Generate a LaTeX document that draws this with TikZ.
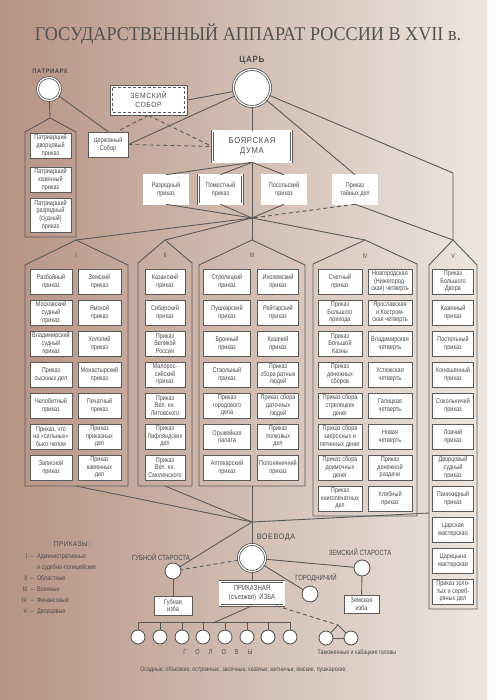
\documentclass[tikz,border=0pt]{standalone}
\usepackage{fontspec}
\setmainfont{Liberation Serif}
\newfontfamily\nfont[FakeStretch=0.8]{Liberation Sans}
\newfontfamily\capfont[FakeStretch=0.9,LetterSpace=8]{Liberation Sans}
\newfontfamily\ttlfont[FakeStretch=0.93]{Liberation Serif}
\usetikzlibrary{positioning,calc}
\definecolor{linec}{HTML}{5A5A5A}
\definecolor{txtc}{HTML}{4A4A4A}
\definecolor{bgl}{RGB}{182,146,130}
\definecolor{bgm}{RGB}{214,196,184}
\definecolor{bgr}{RGB}{238,232,226}

\begin{document}
\begin{tikzpicture}[x=1pt,y=-1pt,
  prk/.style={draw=linec,line width=0.9pt,fill=white,minimum width=#1,minimum height=25pt,inner sep=0pt,align=center,text=txtc,font=\nfont\fontsize{6.9}{7.7}\selectfont},
  prk/.default=42pt,
  dprk/.style={prk=#1,double=white,double distance=1.1pt,line width=0.6pt,minimum height=29pt},
  dprk/.default=44pt,
  big/.style={circle,draw=linec,line width=0.8pt,double=white,double distance=1.2pt,fill=white,minimum size=#1,inner sep=0pt},
  sml/.style={circle,draw=linec,line width=0.9pt,fill=white,minimum size=#1,inner sep=0pt},
  sml/.default=16pt,
  conn/.style={draw=linec,line width=0.9pt},
  dsh/.style={conn,dash pattern=on 4pt off 3pt},
  lbl/.style={text=txtc,font=\capfont\fontsize{7}{8}\selectfont},
  rom/.style={text=txtc,font=\nfont\fontsize{6.5}{7}\selectfont}]
\useasboundingbox (0,0) rectangle (495,700);
\shade[left color=bgl,middle color=bgm,right color=bgr] (0,0) rectangle (495,700);
\fill[white!85!bgr] (487,0) rectangle (495,700);

\node[anchor=base,text=black!68,font=\ttlfont\fontsize{19.5}{22}\selectfont] (ttl) at (248,41) {ГОСУДАРСТВЕННЫЙ АППАРАТ РОССИИ В XVII в.};

% top of the state
\node[big=37pt] (tsar) at (252,88) {};
\node[lbl,font=\capfont\bfseries\fontsize{9}{10}\selectfont] at (252,60) {ЦАРЬ};
\node[big=23pt] (pat) at (49,89) {};
\node[lbl,font=\capfont\bfseries\fontsize{6.5}{8}\selectfont] at (50,71) {ПАТРИАРХ};
\node[prk=77pt,minimum height=30pt,font=\capfont\fontsize{7.5}{9}\selectfont] (zs) at (148.5,100) {ЗЕМСКИЙ\\СОБОР};
\draw[linec,line width=0.8pt,dash pattern=on 3pt off 2pt] ([shift={(3pt,-3pt)}]zs.north west) rectangle ([shift={(-3pt,3pt)}]zs.south east);
\node[prk=40pt] (cs) at (108,144.5) {Церковный\\Собор};
\node[dprk=79pt,minimum height=31pt,font=\capfont\fontsize{8.5}{10}\selectfont] (duma) at (252,146.5) {БОЯРСКАЯ\\ДУМА};
\node[dprk] (rz) at (166,189.5) {Разрядный\\приказ};
\node[dprk] (pm) at (220.5,189.5) {Поместный\\приказ};
\node[dprk] (ps) at (284,189.5) {Посольский\\приказ};
\node[dprk] (tayn) at (355,189.5) {Приказ\\тайных дел};
\coordinate (hub) at (252,218);
\coordinate (vtop) at (453,173);

% patriarch prikazes
\coordinate (c0) at (50,118);
\draw[conn] (25,237) -- (25,132) -- (c0) -- (76,132) -- (76,237) -- cycle;
\node[prk=41pt] (pa1) at (50.5,145.5) {Патриарший\\дворцовый\\приказ};
\node[prk=41pt] (pa2) at (50.5,179.5) {Патриарший\\казенный\\приказ};
\node[prk=41pt,minimum height=34pt] (pa3) at (50.5,215) {Патриарший\\разрядный\\(судный)\\приказ};

% columns
\coordinate (c1) at (76,240);
\coordinate (c2) at (165,240);
\coordinate (c3) at (252,240);
\coordinate (c4) at (365,240);
\coordinate (c5) at (453,240);
\coordinate (d1) at (76,486);
\coordinate (d2) at (165,486);
\coordinate (d3) at (252,486);
\coordinate (e5) at (429,513);
\draw[conn] (25,486) -- (25,265) -- (c1) -- (128,265) -- (128,486) -- cycle;
\draw[conn] (138,486) -- (138,263) -- (c2) -- (192,263) -- (192,486) -- cycle;
\draw[conn] (199,486) -- (199,265) -- (c3) -- (305,265) -- (305,486) -- cycle;
\draw[conn] (313,516) -- (313,264) -- (c4) -- (417,264) -- (417,516) -- cycle;
\draw[conn] (429,609) -- (429,265) -- (c5) -- (477,265) -- (477,609) -- cycle;
\node[rom] at (76,255) {I};
\node[rom] at (165,255) {II};
\node[rom] at (252,255) {III};
\node[rom] at (365,256) {IV};
\node[rom] at (453,256) {V};

% I
\node[prk] (ka1) at (51,281.5) {Разбойный\\приказ};
\node[prk] (ka2) at (51,312.5) {Московский\\судный\\приказ};
\node[prk] (ka3) at (51,343.5) {Владимирский\\судный\\приказ};
\node[prk] (ka4) at (51,374.5) {Приказ\\сыскных дел};
\node[prk] (ka5) at (51,405.5) {Челобитный\\приказ};
\node[prk] (ka6) at (51,436.5) {Приказ, что\\на «сильных»\\бьют челом};
\node[prk] (ka7) at (51,467.5) {Записной\\приказ};
\node[prk=43pt] (kb1) at (99.5,281.5) {Земский\\приказ};
\node[prk=43pt] (kb2) at (99.5,312.5) {Ямской\\приказ};
\node[prk=43pt] (kb3) at (99.5,343.5) {Холопий\\приказ};
\node[prk=43pt] (kb4) at (99.5,374.5) {Монастырский\\приказ};
\node[prk=43pt] (kb5) at (99.5,405.5) {Печатный\\приказ};
\node[prk=43pt] (kb6) at (99.5,436.5) {Приказ\\приказных\\дел};
\node[prk=43pt] (kb7) at (99.5,467.5) {Приказ\\каменных\\дел};
% II
\node[prk=40pt] (oa1) at (165,281.5) {Казанский\\приказ};
\node[prk=40pt] (oa2) at (165,312.5) {Сибирский\\приказ};
\node[prk=40pt] (oa3) at (165,343.5) {Приказ\\Великой\\России};
\node[prk=40pt] (oa4) at (165,374.5) {Малорос-\\сийский\\приказ};
\node[prk=40pt] (oa5) at (165,405.5) {Приказ\\Вел. кн.\\Литовского};
\node[prk=40pt] (oa6) at (165,436.5) {Приказ\\Лифляндских\\дел};
\node[prk=40pt] (oa7) at (165,467.5) {Приказ\\Вел. кн.\\Смоленского};
% III
\node[prk=47pt] (va1) at (227,281.5) {Стрелецкий\\приказ};
\node[prk=47pt] (va2) at (227,312.5) {Пушкарский\\приказ};
\node[prk=47pt] (va3) at (227,343.5) {Бронный\\приказ};
\node[prk=47pt] (va4) at (227,374.5) {Ствольный\\приказ};
\node[prk=47pt] (va5) at (227,405.5) {Приказ\\городового\\дела};
\node[prk=47pt] (va6) at (227,436.5) {Оружейная\\палата};
\node[prk=47pt] (va7) at (227,467.5) {Аптекарский\\приказ};
\node[prk=41pt] (vb1) at (278,281.5) {Иноземский\\приказ};
\node[prk=41pt] (vb2) at (278,312.5) {Рейтарский\\приказ};
\node[prk=41pt] (vb3) at (278,343.5) {Казачий\\приказ};
\node[prk=41pt] (vb4) at (278,374.5) {Приказ\\сбора ратных\\людей};
\node[prk=41pt] (vb5) at (278,405.5) {Приказ сбора\\даточных\\людей};
\node[prk=41pt] (vb6) at (278,436.5) {Приказ\\полковых\\дел};
\node[prk=41pt] (vb7) at (278,467.5) {Полоняничний\\приказ};
% IV
\node[prk=44pt] (fa1) at (340,281.5) {Счетный\\приказ};
\node[prk=44pt] (fa2) at (340,312.5) {Приказ\\Большого\\прихода};
\node[prk=44pt] (fa3) at (340,343.5) {Приказ\\Большой\\Казны};
\node[prk=44pt] (fa4) at (340,374.5) {Приказ\\денежных\\сборов};
\node[prk=44pt] (fa5) at (340,405.5) {Приказ сбора\\стрелецких\\денег};
\node[prk=44pt] (fa6) at (340,436.5) {Приказ сбора\\запросных и\\пятинных денег};
\node[prk=44pt] (fa7) at (340,467.5) {Приказ сбора\\доимочных\\денег};
\node[prk=44pt] (fa8) at (340,498.5) {Приказ\\книгопечатных\\дел};
\node[prk=44pt] (fb1) at (390,281.5) {Новгородская\\(Нижегород-\\ская) четверть};
\node[prk=44pt] (fb2) at (390,312.5) {Ярославская\\и Костром-\\ская четверть};
\node[prk=44pt] (fb3) at (390,343.5) {Владимирская\\четверть};
\node[prk=44pt] (fb4) at (390,374.5) {Устюжская\\четверть};
\node[prk=44pt] (fb5) at (390,405.5) {Галицкая\\четверть};
\node[prk=44pt] (fb6) at (390,436.5) {Новая\\четверть};
\node[prk=44pt] (fb7) at (390,467.5) {Приказ\\денежной\\раздачи};
\node[prk=44pt] (fb8) at (390,498.5) {Хлебный\\приказ};
% V
\node[prk=41pt] (da1) at (453,281.5) {Приказ\\Большого\\Двора};
\node[prk=41pt] (da2) at (453,312.5) {Казенный\\приказ};
\node[prk=41pt] (da3) at (453,343.5) {Постельный\\приказ};
\node[prk=41pt] (da4) at (453,374.5) {Конюшенный\\приказ};
\node[prk=41pt] (da5) at (453,405.5) {Сокольничий\\приказ};
\node[prk=41pt] (da6) at (453,436.5) {Ловчий\\приказ};
\node[prk=41pt] (da7) at (453,467.5) {Дворцовый\\судный\\приказ};
\node[prk=41pt] (da8) at (453,498.5) {Панихидный\\приказ};
\node[prk=41pt] (da9) at (453,529.5) {Царская\\мастерская};
\node[prk=41pt] (da10) at (453,560.5) {Царицына\\мастерская};
\node[prk=41pt] (da11) at (453,591.5) {Приказ золо-\\тых и сереб-\\ряных дел};

% local power
\coordinate (vhub) at (252,522);
\node[big=27pt] (voe) at (252,558) {};
\node[lbl,font=\capfont\fontsize{8}{9}\selectfont] at (276,537) {ВОЕВОДА};
\node[sml] (gs) at (173,571) {};
\node[lbl,font=\nfont\fontsize{7.5}{8}\selectfont] at (161,557) {ГУБНОЙ СТАРОСТА};
\node[prk=38pt,minimum height=19pt] (gi) at (173,605.5) {Губная\\изба};
\node[dprk=64pt,minimum height=24pt,font=\nfont\fontsize{7.5}{9}\selectfont] (pi) at (252,593.5) {ПРИКАЗНАЯ\\(съезжая) \ ИЗБА};
\node[sml] (gor) at (310,594) {};
\node[lbl,font=\nfont\fontsize{7.5}{8}\selectfont] at (316,578) {ГОРОДНИЧИЙ};
\node[sml] (zst) at (362,568) {};
\node[lbl,font=\nfont\fontsize{7.5}{8}\selectfont] at (360,552) {ЗЕМСКИЙ СТАРОСТА};
\node[prk=35pt,minimum height=18pt] (zi) at (361.5,604) {Земская\\изба};
\node[sml=14pt] (g1) at (138,637) {};
\node[sml=14pt] (g2) at (160,637) {};
\node[sml=14pt] (g3) at (182,637) {};
\node[sml=14pt] (g4) at (203,637) {};
\node[sml=14pt] (g5) at (225,637) {};
\node[sml=14pt] (g6) at (247,637) {};
\node[sml=14pt] (g7) at (268,637) {};
\node[sml=14pt] (g8) at (290,637) {};
\node[rom,font=\nfont\fontsize{7}{8}\selectfont] at (218,652) {Г\hspace{9pt}О\hspace{9pt}Л\hspace{9pt}О\hspace{9pt}В\hspace{9pt}Ы};
\node[sml=14pt] (t1) at (326,638) {};
\node[sml=14pt] (t2) at (351,638) {};
\coordinate (tp) at (338,625);
\node[rom,font=\nfont\fontsize{6.6}{7}\selectfont] at (357,653) {Таможенные и кабацкие головы};
\node[rom,font=\nfont\fontsize{6.6}{7}\selectfont] at (243,670) {Осадные, объезжие, острожные, засечные, казачьи, житничьи, ямские, пушкарские};

% legend
\node[lbl,font=\capfont\fontsize{7}{8}\selectfont] at (72,544) {ПРИКАЗЫ:};
\node[rom,anchor=north west,inner sep=0pt,font=\nfont\fontsize{6.8}{11}\selectfont] (lgd) at (22,551) {%
  \begin{tabular}{@{}r@{\ \ }c@{\ \ }l@{}}
  I & -- & Административные\\
    &    & и судебно-полицейские\\
  II & -- & Областные\\
  III & -- & Военные\\
  IV & -- & Финансовые\\
  V & -- & Дворцовые
  \end{tabular}};

% connectors
\draw[conn] (tsar) -- (zs.east);
\draw[conn] (tsar) -- (cs.east);
\draw[conn] (tsar) -- (duma.north);
\draw[conn] (tsar) -- (tayn.north);
\draw[conn] (tsar) -- (vtop) -- (c5);
\draw[conn] (pat) -- (c0);
\draw[conn] (pat) -- (cs.north);
\draw[dsh] (zs.south) -- ([xshift=9pt]cs.north);
\draw[dsh] (zs.south) -- (duma.west);
\draw[dsh] (cs.east) -- (duma.west);
\draw[conn] (duma.south) -- (rz.north);
\draw[conn] (duma.south) -- (pm.north);
\draw[conn] (duma.south) -- (ps.north);
\draw[conn] (duma.south) -- (hub);
\draw[conn] (rz.south) -- (hub);
\draw[conn] (pm.south) -- (hub);
\draw[conn] (ps.south) -- (hub);
\draw[dsh] (tayn.south) -- (hub);
\draw[conn] (tayn.south) -- (c5);
\draw[conn] (hub) -- (c1);
\draw[conn] (hub) -- (c2);
\draw[conn] (hub) -- (c3);
\draw[conn] (hub) -- (c4);
\draw[conn] (d1) -- (vhub);
\draw[conn] (d2) -- (vhub);
\draw[conn] (d3) -- (vhub);
\draw[conn] (e5) -- (vhub);
\draw[conn] (vhub) -- (voe);
\draw[conn] (vhub) -- (gs);
\draw[dsh] (voe) -- (gs);
\draw[conn] (voe) -- (pi);
\draw[conn] (voe) -- (gor);
\draw[conn] (voe) -- (zst);
\draw[conn] (gs) -- (gi);
\draw[conn] (zst) -- (zi);
\draw[conn] (pi.south) -- (213,623);
\draw[conn] (g1.north) -- ++(0,-7) -| (g8.north);
\draw[conn] (g2.north) -- ++(0,-7);
\draw[conn] (g3.north) -- ++(0,-7);
\draw[conn] (g4.north) -- ++(0,-7);
\draw[conn] (g5.north) -- ++(0,-7);
\draw[conn] (g6.north) -- ++(0,-7);
\draw[conn] (g7.north) -- ++(0,-7);
\draw[dsh] ([xshift=-8pt]pi.south east) -- (tp);
\draw[conn] (t1) -- (tp) -- (t2);
\draw[conn] (t1) -- (t2);
\end{tikzpicture}
\end{document}
